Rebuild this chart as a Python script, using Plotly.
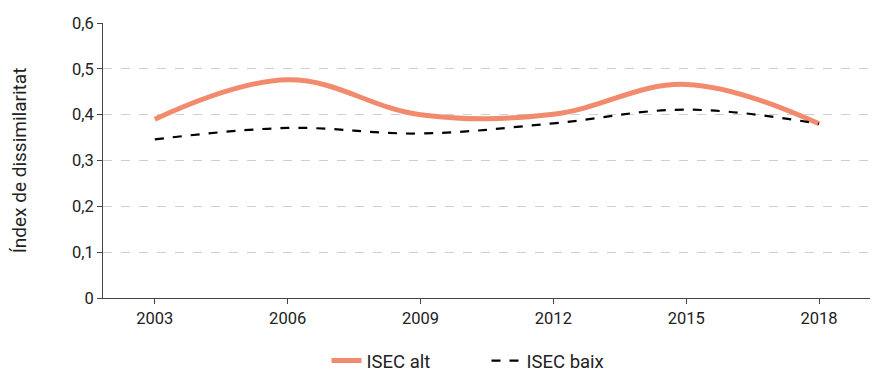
import plotly.graph_objects as go

years = [2003, 2006, 2009, 2012, 2015, 2018]
isec_alt = [0.390, 0.476, 0.400, 0.401, 0.466, 0.380]
isec_baix = [0.346, 0.371, 0.359, 0.381, 0.411, 0.380]
y_ticks = [0, 0.1, 0.2, 0.3, 0.4, 0.5, 0.6]
y_labels = ["0", "0,1", "0,2", "0,3", "0,4", "0,5", "0,6"]

fig = go.Figure()
fig.add_trace(go.Scatter(x=years, y=isec_alt, mode="lines", name="ISEC alt",
                         line=dict(color="#F28A6E", width=5, shape="spline", smoothing=1.1)))
fig.add_trace(go.Scatter(x=years, y=isec_baix, mode="lines", name="ISEC baix",
                         line=dict(color="#000000", width=2.2, dash="dash", shape="spline", smoothing=1.1)))

fig.update_layout(
    width=872, height=367,
    margin=dict(l=95, r=10, t=15, b=77, autoexpand=False),
    paper_bgcolor="white", plot_bgcolor="white",
    font=dict(family="Roboto", size=16, color="#222"),
    showlegend=True,
    legend=dict(orientation="h", x=0.5, xanchor="center", y=-0.16, yanchor="top",
                font=dict(size=18.5), itemwidth=30, entrywidth=115, tracegroupgap=0),
    xaxis=dict(range=[2001.83, 2019.15], tickmode="array", tickvals=years,
               ticktext=[str(y) for y in years], showgrid=False, zeroline=False,
               showline=True, linecolor="#444", linewidth=1, automargin=False,
               ticks="outside", ticklen=5, tickcolor="#444", tickfont=dict(size=16.5)),
    yaxis=dict(range=[0, 0.6], tickmode="array", tickvals=y_ticks, ticktext=y_labels,
               showgrid=True, gridcolor="#cfcfcf", griddash="dash", gridwidth=1,
               zeroline=False, showline=True, linecolor="#444", linewidth=1, automargin=False,
               ticks="outside", ticklen=5, tickcolor="#444", tickfont=dict(size=16.5),
               title=dict(text="Índex de dissimilaritat", font=dict(size=19), standoff=45)),
)

fig.write_html("out.html")
